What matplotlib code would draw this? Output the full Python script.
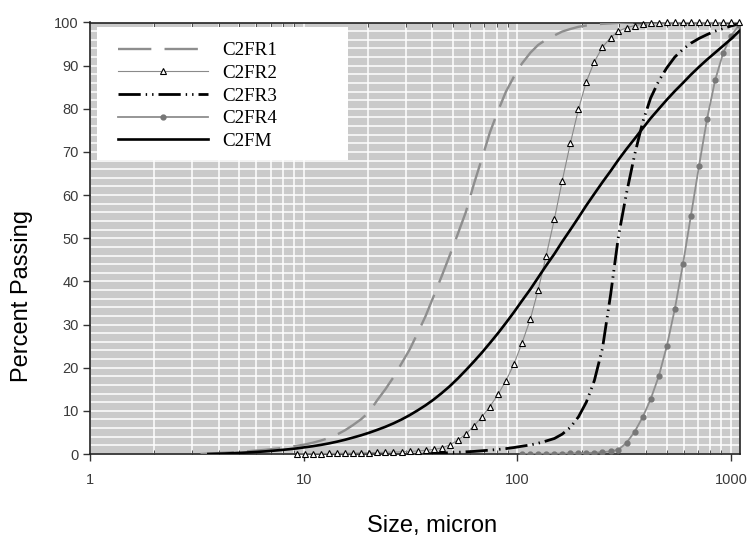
import matplotlib
matplotlib.use("Agg")
import matplotlib.pyplot as plt
from matplotlib.patches import Rectangle
from matplotlib.ticker import LogLocator, MultipleLocator, FixedLocator, FixedFormatter, NullFormatter

# sieve sizes (micron), 2^(1/8) series shared by all curves
SIZES = [2.76, 3.02, 3.29, 3.58, 3.91, 4.26, 4.65, 5.07, 5.52, 6.03,
         6.57, 7.16, 7.81, 8.52, 9.29, 10.1, 11.0, 12.0, 13.1, 14.3,
         15.6, 17.0, 18.6, 20.3, 22.1, 24.1, 26.3, 28.7, 31.3, 34.1,
         37.2, 40.5, 44.2, 48.2, 52.6, 57.3, 62.5, 68.2, 74.3, 81.1,
         88.4, 96.4, 105, 115, 125, 136, 149, 162, 177, 193,
         210, 229, 250, 273, 297, 324, 354, 386, 420, 459,
         500, 545, 595, 648, 707, 771, 841, 917, 1000, 1091]

# percent passing, each list lines up with the last len(list) sizes
C2FR1 = [0.0, 0.1, 0.2, 0.3, 0.4, 0.5, 0.65, 0.8, 0.95, 1.15,
         1.35, 1.6, 1.9, 2.2, 2.6, 3.1, 3.7, 4.5, 5.5, 6.7,
         8.1, 9.8, 12.5, 15.0, 17.8, 21.0, 24.2, 28.0, 32.0, 36.5,
         41.2, 46.0, 51.0, 56.0, 62.5, 68.5, 74.5, 79.5, 84.0, 87.5,
         90.5, 93.0, 94.8, 96.0, 97.0, 97.9, 98.5, 99.0, 99.3, 99.5,
         99.7, 99.8, 99.9, 100, 100, 100, 100, 100, 100, 100,
         100, 100, 100, 100, 100, 100, 100, 100]

C2FR2 = [0.0, 0.05, 0.08, 0.1, 0.12, 0.15, 0.18, 0.2, 0.25, 0.3,
         0.35, 0.4, 0.45, 0.5, 0.6, 0.7, 0.85, 1.05, 1.4, 2.1,
         3.2, 4.6, 6.5, 8.6, 11.0, 13.8, 17.0, 20.9, 25.7, 31.3,
         38.0, 45.8, 54.5, 63.3, 72.1, 79.9, 86.3, 90.9, 94.3, 96.5,
         98.0, 98.8, 99.3, 99.6, 99.8, 99.9, 100, 100, 100, 100,
         100, 100, 100, 100, 100, 100]

C2FR3 = [0.0, 0.1, 0.2, 0.3, 0.4, 0.5, 0.6, 0.75, 0.9, 1.05,
         1.25, 1.5, 1.8, 2.1, 2.5, 3.0, 3.6, 4.6, 6.2, 8.6,
         12.0, 17.0, 24.5, 37.0, 50.5, 60.5, 69.5, 77.0, 82.5, 86.5,
         89.5, 92.0, 93.8, 95.2, 96.3, 97.2, 98.0, 98.6, 99.2, 99.7]

C2FR4 = [0.0, 0.02, 0.04, 0.06, 0.08, 0.1, 0.13, 0.17, 0.22, 0.3,
         0.42, 0.62, 1.0, 2.6, 5.2, 8.6, 12.7, 18.1, 25.0, 33.6,
         44.0, 55.2, 66.7, 77.6, 86.6, 92.9, 96.9, 99.5]

C2FM = [0.0, 0.05, 0.1, 0.18, 0.27, 0.37, 0.48, 0.6, 0.75, 0.92,
        1.1, 1.3, 1.55, 1.8, 2.1, 2.45, 2.85, 3.3, 3.8, 4.35,
        4.95, 5.6, 6.3, 7.1, 8.0, 9.0, 10.1, 11.3, 12.6, 14.1,
        15.7, 17.5, 19.4, 21.4, 23.5, 25.7, 28.0, 30.4, 32.9, 35.5,
        38.2, 40.9, 43.6, 46.4, 49.2, 52.0, 54.8, 57.6, 60.3, 63.0,
        65.6, 68.2, 70.7, 73.1, 75.5, 77.8, 80.0, 82.1, 84.1, 86.0,
        87.9, 89.7, 91.4, 93.0, 94.6, 96.2, 98.0]

X_TICKS = [1, 10, 100, 1000]
X_TICK_LABELS = ["1", "10", "100", "1000"]


def sizes_for(values):
    return SIZES[len(SIZES) - len(values):]


def main():
    plt.rcParams["font.family"] = ["Liberation Sans", "DejaVu Sans"]
    plt.rcParams["lines.scale_dashes"] = False

    fig = plt.figure(figsize=(7.5, 5.49), dpi=100)
    ax = fig.add_axes([90 / 750, 1 - 454 / 549, 650 / 750, 431.5 / 549])
    ax.set_facecolor("#cacaca")

    ax.plot(sizes_for(C2FR1), C2FR1, color="#8e8e8e", lw=1.7,
            dashes=(24, 9.5), label="C2FR1", zorder=3)
    ax.plot(sizes_for(C2FR2), C2FR2, color="#8a8a8a", lw=0.8,
            marker="^", ms=5, mfc="white", mec="black", mew=0.8,
            label="C2FR2", zorder=4, clip_on=False)
    ax.plot(sizes_for(C2FR3), C2FR3, color="black", lw=2.0,
            dashes=(16, 3.6, 1, 3.6, 1, 3.6), label="C2FR3", zorder=3)
    ax.plot(sizes_for(C2FR4), C2FR4, color="#8e8e8e", lw=1.3,
            marker="o", ms=3.5, mfc="#777777", mec="#777777",
            label="C2FR4", zorder=3)
    ax.plot(sizes_for(C2FM), C2FM, color="black", lw=1.9,
            label="C2FM", zorder=4)

    ax.set_xscale("log")
    ax.set_xlim(1, 1100)
    ax.set_ylim(0, 100)

    ax.xaxis.set_major_locator(FixedLocator(X_TICKS))
    ax.xaxis.set_major_formatter(FixedFormatter(X_TICK_LABELS))
    ax.xaxis.set_minor_locator(LogLocator(base=10, subs=range(2, 10)))
    ax.xaxis.set_minor_formatter(NullFormatter())
    ax.yaxis.set_major_locator(MultipleLocator(10))
    ax.yaxis.set_minor_locator(MultipleLocator(2))

    ax.grid(True, which="both", color="white", lw=1.1, zorder=1)
    ax.set_axisbelow(True)

    ax.tick_params(axis="both", which="major", labelsize=10.5,
                   labelcolor="#3a3a3a", color="#333333", length=5, width=1)
    ax.tick_params(axis="x", which="major", direction="out", pad=9)
    ax.tick_params(axis="y", which="major", direction="out", pad=3)
    ax.tick_params(axis="x", which="minor", direction="in", length=3,
                   top=True, bottom=True, color="#333333")
    ax.tick_params(axis="y", which="minor", length=0)

    for side in ["top", "right", "left", "bottom"]:
        ax.spines[side].set_color("#222222")
        ax.spines[side].set_linewidth(1.2)

    # white legend box
    ax.add_patch(Rectangle((0.0108, 0.681), 0.386, 0.308,
                           transform=ax.transAxes, facecolor="white",
                           edgecolor="none", zorder=5))
    leg = ax.legend(loc="upper left", bbox_to_anchor=(0.0432, 0.955),
                    frameon=False, borderpad=0, borderaxespad=0,
                    handlelength=4.7, handletextpad=0.8, labelspacing=0.28,
                    numpoints=1,
                    prop={"family": "Liberation Serif", "size": 13.7})
    leg.set_zorder(6)

    fig.text(22 / 750, 1 - 296 / 549, "Percent Passing", rotation=90,
             ha="center", va="center", fontsize=17)
    fig.text(432 / 750, 1 - 526 / 549, "Size, micron",
             ha="center", va="center", fontsize=17)

    fig.savefig("out.png", dpi=100)


if __name__ == "__main__":
    main()
